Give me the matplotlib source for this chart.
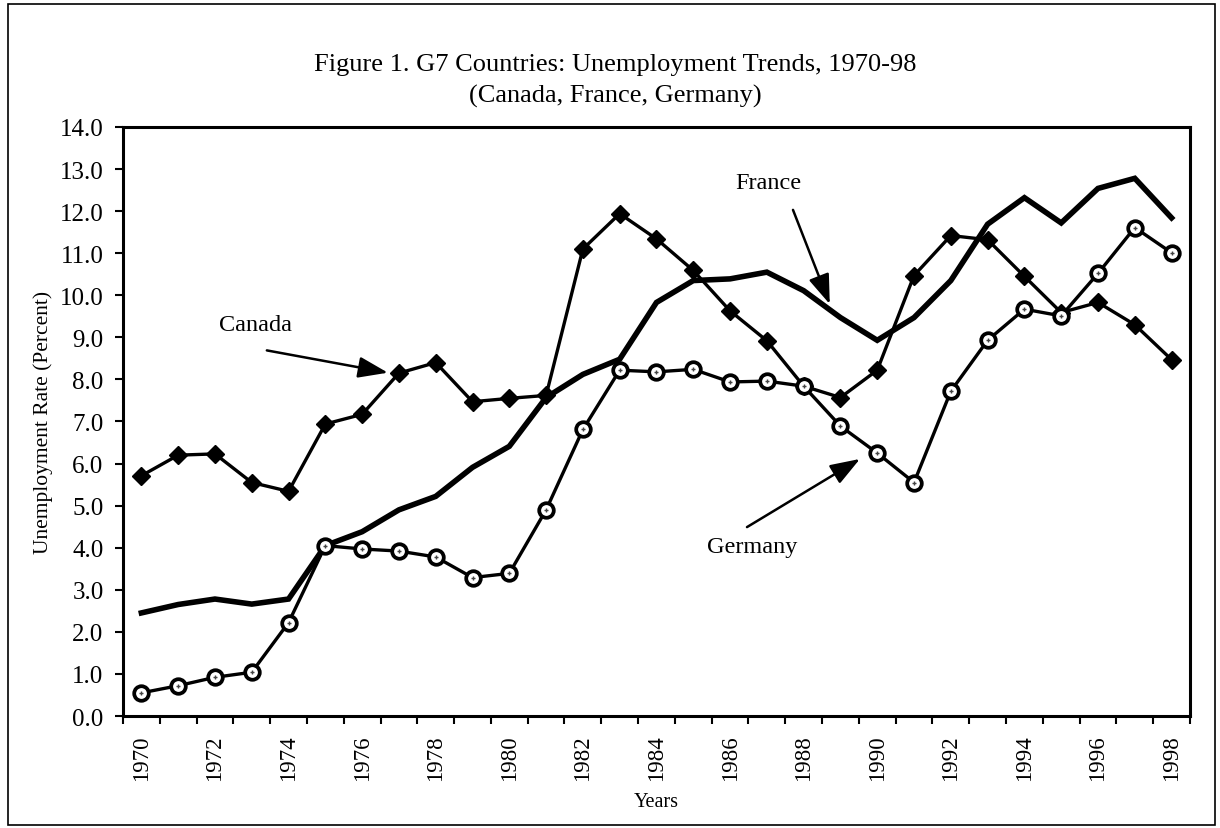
import numpy as np
import matplotlib
matplotlib.use('Agg')
import matplotlib.pyplot as plt
from matplotlib.patches import Rectangle

# ---- data (percent) ----
years = list(range(1970, 1999))

canada = [5.71, 6.20, 6.23, 5.55, 5.34, 6.94, 7.17, 8.15, 8.40, 7.47,
          7.55, 7.62, 11.10, 11.94, 11.34, 10.59, 9.63, 8.92, 7.84, 7.57,
          8.22, 10.47, 11.42, 11.32, 10.45, 9.59, 9.83, 9.30, 8.47]

france = [2.45, 2.65, 2.78, 2.66, 2.78, 4.05, 4.38, 4.90, 5.22, 5.91,
          6.41, 7.57, 8.12, 8.48, 9.83, 10.35, 10.39, 10.55, 10.11, 9.47,
          8.93, 9.47, 10.35, 11.69, 12.32, 11.72, 12.54, 12.78, 11.84]

germany = [0.55, 0.72, 0.92, 1.04, 2.22, 4.05, 3.97, 3.92, 3.78, 3.29,
           3.39, 4.90, 6.81, 8.22, 8.18, 8.24, 7.94, 7.96, 7.84, 6.89,
           6.25, 5.55, 7.72, 8.93, 9.67, 9.51, 10.52, 11.61, 11.01]

y_ticks = np.arange(0, 14.1, 1.0)

plt.rcParams['font.family'] = ['Liberation Serif', 'DejaVu Serif']

fig = plt.figure(figsize=(12.2, 8.29), dpi=100)
ax = fig.add_axes([0.1008, 0.1351, 0.8746, 0.7105])

# categories sit in the middle of each slot (Excel-style category axis)
x = np.arange(len(years))

ax.plot(x, france, color='black', lw=4.0, solid_joinstyle='miter', zorder=2)
ax.plot(x, canada, color='black', lw=2.4, marker='D', ms=9,
        markerfacecolor='black', markeredgecolor='black', zorder=3)
ax.plot(x, germany, color='black', lw=2.4, marker='o', ms=10.5,
        markerfacecolor='white', markeredgecolor='black', mew=2.7, zorder=4)
# little dotted centre of the Germany markers
ax.plot(x, germany, ls='none', marker='+', ms=3.5, mew=1.0, color='#444444', zorder=5)

ax.set_xlim(-0.5, len(years) - 0.5)
ax.set_ylim(0, 14)

# y axis
ax.set_yticks(y_ticks)
ax.set_yticklabels([f'{v:.1f}' for v in y_ticks], fontsize=18)
ax.tick_params(axis='y', direction='out', length=6, width=1.5, pad=8)

# x axis: ticks between categories, labels every other year
ax.set_xticks(np.arange(-0.5, len(years), 1.0))
ax.set_xticklabels([])
ax.tick_params(axis='x', which='major', direction='out', length=6, width=1.5)
lab_pos = x[::2]
ax.set_xticks(lab_pos, minor=True)
ax.set_xticklabels([str(years[i]) for i in lab_pos], minor=True,
                   rotation=90, fontsize=16.5)
ax.tick_params(axis='x', which='minor', length=0, pad=13)

for side in ['left', 'bottom', 'top', 'right']:
    ax.spines[side].set_linewidth(2.2)

ax.set_ylabel('Unemployment Rate (Percent)', fontsize=15.5, labelpad=5)
ax.set_xlabel('Years', fontsize=14.5, labelpad=9)

# ---- annotations ----
arrow = dict(arrowstyle='-|>,head_length=0.7,head_width=0.25', mutation_scale=26,
             lw=1.8, color='black', shrinkA=0, shrinkB=0)
ax.text(3.09, 9.31, 'Canada', fontsize=17.5, ha='center', va='center')
ax.annotate('', xy=(6.70, 8.16), xytext=(3.41, 8.69), arrowprops=arrow)

ax.text(17.03, 12.67, 'France', fontsize=17.5, ha='center', va='center')
ax.annotate('', xy=(18.71, 9.79), xytext=(17.71, 12.03), arrowprops=arrow)

ax.text(16.59, 4.03, 'Germany', fontsize=17.5, ha='center', va='center')
ax.annotate('', xy=(19.53, 6.11), xytext=(16.46, 4.49), arrowprops=arrow)

# ---- title ----
fig.text(0.504, 0.922, 'Figure 1. G7 Countries: Unemployment Trends, 1970-98',
         fontsize=19, ha='center', va='center')
fig.text(0.504, 0.884, '(Canada, France, Germany)', fontsize=19,
         ha='center', va='center')

# frame round the whole figure
fig.patches.append(Rectangle((8 / 1220, 3 / 829), 1207 / 1220, 821 / 829,
                             transform=fig.transFigure, fill=False,
                             edgecolor='black', lw=1.2))

plt.savefig('out.png', dpi=100)
plt.close()
